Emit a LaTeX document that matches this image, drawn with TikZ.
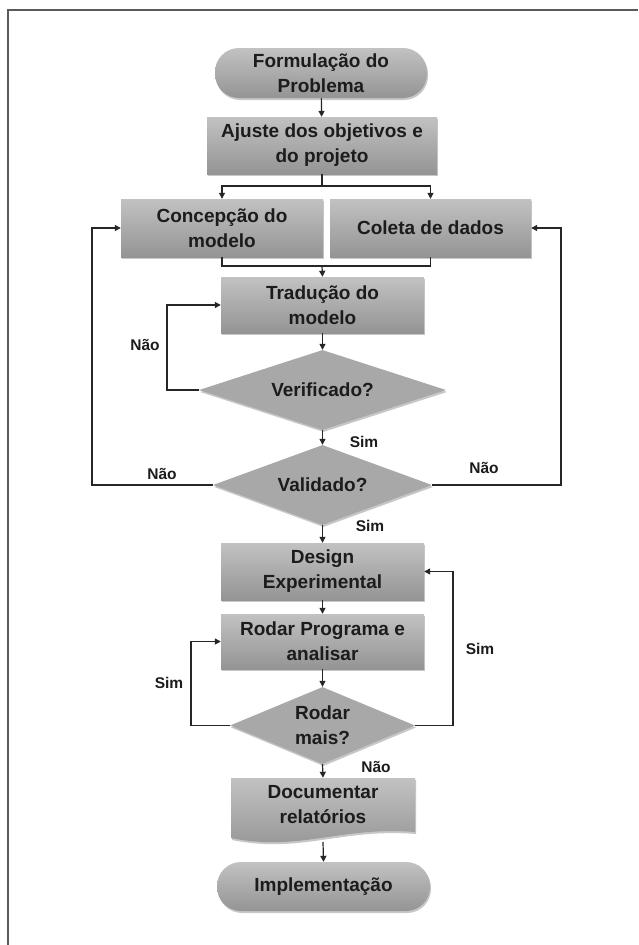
\documentclass[tikz,border=0pt]{standalone}
\usepackage{fontspec}
\setmainfont{Liberation Sans}
\usetikzlibrary{arrows.meta,shapes.geometric,shadows,calc}
\definecolor{txt}{HTML}{1C1C1C}
\definecolor{ln}{HTML}{262626}
\definecolor{frm}{HTML}{5A5A5A}
\begin{document}
\begin{tikzpicture}[x=1pt,y=-1pt,
  base/.style={draw=none, text=txt, font=\bfseries\fontsize{19}{25}\selectfont, align=center, inner sep=0pt,
    drop shadow={shadow xshift=1pt,shadow yshift=-2pt,opacity=0.22,fill=black}},
  box/.style={base, rectangle, top color=black!24, bottom color=black!42},
  term/.style={box, rounded corners=24pt},
  dec/.style={base, diamond, fill=black!34},
  lbl/.style={font=\bfseries\fontsize{15.5}{18}\selectfont, text=txt, inner sep=0pt},
  arr/.style={draw=ln, line width=1.2pt, -{Triangle[length=6pt,width=6pt]}},
  con/.style={draw=ln, line width=1.2pt}]
\useasboundingbox (0,0) rectangle (638,945);
\fill[white] (0,0) rectangle (638,945);
\draw[frm, line width=2pt] (8,945) -- (8,10) -- (638,10);

% nodes
\node[term, minimum width=212pt, minimum height=50pt] (form) at (321,73) {Formulação do\\Problema};
\node[box, minimum width=230pt, minimum height=57pt] (ajuste) at (322,145.5) {Ajuste dos objetivos e\\do projeto};
\node[box, minimum width=202pt, minimum height=58pt] (conc) at (222,228) {Concepção do\\modelo};
\node[box, minimum width=201pt, minimum height=58pt] (colet) at (430.5,228) {Coleta de dados};
\node[box, minimum width=203pt, minimum height=56pt] (trad) at (322.5,305) {Tradução do\\modelo};
\node[dec, minimum width=247pt, minimum height=80pt, shape aspect=3.1] (verif) at (322.5,390) {Verificado?};
\node[dec, minimum width=219pt, minimum height=80pt, shape aspect=2.7] (valid) at (322.5,485) {Validado?};
\node[box, minimum width=203pt, minimum height=57pt] (design) at (322.5,571.5) {Design\\Experimental};
\node[box, minimum width=203pt, minimum height=55pt] (rodar) at (322.5,641.5) {Rodar Programa e\\analisar};
\node[dec, minimum width=185pt, minimum height=77pt, shape aspect=2.4] (mais) at (322.5,725.5) {Rodar\\mais?};

% document shape
\path[fill=black, opacity=0.22, xshift=1pt, yshift=-2pt]
  (231,778) -- (415,778) -- (415,832) .. controls (340,826) and (300,852) .. (231,838) -- cycle;
\path[top color=black!24, bottom color=black!42]
  (231,778) -- (415,778) -- (415,832) .. controls (340,826) and (300,852) .. (231,838) -- cycle;
\node[text=txt, font=\bfseries\fontsize{19}{25}\selectfont, align=center, inner sep=0pt,
  minimum width=184pt, minimum height=54pt] (doc) at (323,805) {Documentar\\relatórios};
\coordinate (docb) at (323,842);

\node[term, minimum width=213pt, minimum height=49pt] (impl) at (323.5,886.5) {Implementação};

% connectors
\draw[arr] (form) -- (ajuste);
\coordinate (split) at (322,186);
\draw[con] (ajuste.south) -- (split);
\draw[arr] (split) -| (conc.north);
\draw[arr] (split) -| (colet.north);
\coordinate (merge) at (322,266);
\draw[con] (conc.south) |- (merge) -| (colet.south);
\draw[arr] (merge) -- (trad.north);
\draw[arr] (trad) -- (verif);
\coordinate (vl) at (167,390);
\draw[arr] (verif.west) -- (vl) |- (trad.west);
\draw[arr] (verif) -- (valid);
\coordinate (al) at (92,485);
\coordinate (ar) at (561,485);
\draw[arr] (valid.west) -- (al) |- (conc.west);
\draw[arr] (valid.east) -- (ar) |- (colet.east);
\draw[arr] (valid) -- (design);
\draw[arr] (design) -- (rodar);
\draw[arr] (rodar) -- (mais);
\coordinate (ml) at (191,725.5);
\coordinate (mr) at (453,725.5);
\draw[arr] (mais.west) -- (ml) |- (rodar.west);
\draw[arr] (mais.east) -- (mr) |- (design.east);
\draw[arr] (mais.south) -- (doc.north);
\draw[arr] (docb) -- (impl.north);

% labels
\node[lbl] (l1) at (145,345) {Não};
\node[lbl] (l2) at (364,442) {Sim};
\node[lbl] (l3) at (162,474) {Não};
\node[lbl] (l4) at (484,468) {Não};
\node[lbl] (l5) at (370,526) {Sim};
\node[lbl] (l6) at (169,683) {Sim};
\node[lbl] (l7) at (480,649) {Sim};
\node[lbl] (l8) at (376,767) {Não};
\end{tikzpicture}
\end{document}
